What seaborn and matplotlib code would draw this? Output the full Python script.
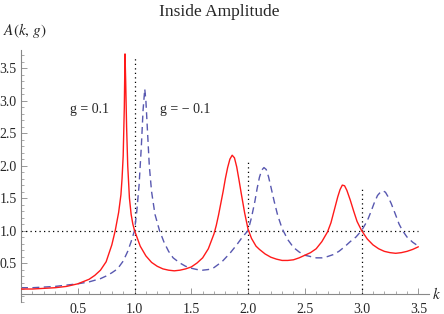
import numpy as np
import pandas as pd
import matplotlib
matplotlib.use("Agg")
import matplotlib.pyplot as plt
from matplotlib.ticker import MultipleLocator
import seaborn as sns

# --- data ---
k_pos = [0.0, 0.1, 0.2, 0.3, 0.4, 0.5, 0.6, 0.65, 0.7, 0.75, 0.8, 0.83, 0.86, 0.88,
         0.89, 0.9, 0.91, 0.916, 0.922, 0.93, 0.94, 0.955, 0.97, 0.985, 1.0, 1.05,
         1.1, 1.15, 1.2, 1.25, 1.3, 1.35, 1.4, 1.45, 1.5, 1.55, 1.6, 1.65, 1.7,
         1.72, 1.74, 1.76, 1.78, 1.8, 1.82, 1.84, 1.86, 1.88, 1.9, 1.92, 1.94, 1.97,
         2.0, 2.03, 2.07, 2.1, 2.15, 2.2, 2.25, 2.3, 2.35, 2.4, 2.45, 2.5, 2.55, 2.6,
         2.65, 2.7, 2.73, 2.76, 2.79, 2.81, 2.83, 2.85, 2.87, 2.9, 2.93, 2.96, 3.0,
         3.05, 3.1, 3.15, 3.2, 3.25, 3.3, 3.35, 3.4, 3.45, 3.5]
amp_pos = [0.10, 0.10, 0.11, 0.12, 0.14, 0.18, 0.25, 0.31, 0.39, 0.52, 0.78, 1.0, 1.28, 1.55,
           1.8, 2.15, 2.9, 3.72, 3.3, 2.6, 2.0, 1.5, 1.25, 1.1, 1.0, 0.76,
           0.61, 0.51, 0.45, 0.41, 0.39, 0.38, 0.39, 0.41, 0.44, 0.50, 0.58, 0.72, 0.95,
           1.08, 1.24, 1.42, 1.6, 1.8, 1.97, 2.1, 2.16, 2.12, 1.98, 1.78, 1.57, 1.27,
           1.02, 0.88, 0.76, 0.71, 0.64, 0.59, 0.56, 0.54, 0.54, 0.55, 0.58, 0.62, 0.66, 0.72,
           0.83, 0.98, 1.12, 1.32, 1.52, 1.63, 1.70, 1.69, 1.62, 1.47, 1.30, 1.14, 1.0,
           0.87, 0.78, 0.72, 0.68, 0.66, 0.65, 0.66, 0.68, 0.71, 0.75]

k_neg = [0.0, 0.1, 0.2, 0.3, 0.4, 0.5, 0.6, 0.7, 0.75, 0.8, 0.85, 0.9, 0.94, 0.97,
         1.0, 1.02, 1.04, 1.06, 1.075, 1.09, 1.1, 1.115, 1.13, 1.15, 1.18, 1.22, 1.26,
         1.3, 1.34, 1.4, 1.45, 1.5, 1.55, 1.6, 1.65, 1.7, 1.77, 1.84, 1.9, 1.95, 2.0,
         2.03, 2.06, 2.08, 2.1, 2.12, 2.14, 2.16, 2.18, 2.2, 2.23, 2.26, 2.3, 2.35,
         2.4, 2.45, 2.5, 2.55, 2.6, 2.65, 2.7, 2.75, 2.8, 2.85, 2.9, 2.95, 3.0, 3.05,
         3.08, 3.11, 3.14, 3.17, 3.19, 3.21, 3.23, 3.26, 3.3, 3.33, 3.36, 3.4, 3.45, 3.5]
amp_neg = [0.12, 0.12, 0.13, 0.14, 0.16, 0.18, 0.21, 0.26, 0.30, 0.35, 0.41, 0.53, 0.68, 0.83,
           1.0, 1.3, 1.7, 2.3, 2.85, 3.18, 3.0, 2.5, 2.0, 1.6, 1.25, 1.0, 0.82,
           0.68, 0.58, 0.50, 0.45, 0.42, 0.40, 0.39, 0.40, 0.43, 0.52, 0.65, 0.78, 0.90, 1.0,
           1.2, 1.45, 1.65, 1.82, 1.93, 1.97, 1.94, 1.83, 1.68, 1.45, 1.24, 1.03, 0.86,
           0.74, 0.67, 0.62, 0.60, 0.58, 0.58, 0.60, 0.63, 0.68, 0.75, 0.83, 0.90, 1.0, 1.15,
           1.28, 1.42, 1.54, 1.60, 1.61, 1.59, 1.53, 1.42, 1.24, 1.10, 1.0, 0.90, 0.82, 0.76]

guide_k = [1.0, 2.0, 3.0]
guide_top = [3.68, 2.09, 1.64]
ref_level = 1.0

x_major = [0.5, 1.0, 1.5, 2.0, 2.5, 3.0, 3.5]
y_major = [0.5, 1.0, 1.5, 2.0, 2.5, 3.0, 3.5]

df_pos = pd.DataFrame({"k": k_pos, "A": amp_pos})
df_neg = pd.DataFrame({"k": k_neg, "A": amp_neg})

sns.set_style("white")
plt.rcParams["font.family"] = ["Liberation Serif", "DejaVu Serif"]
plt.rcParams["mathtext.fontset"] = "stix"

fig = plt.figure(figsize=(4.44, 3.14), dpi=100)
ax = fig.add_axes([0.0473, 0.0382, 0.918, 0.8025])

# reference guides (dotted)
ax.plot([0, 3.5], [ref_level, ref_level], color="black", lw=0.9,
        dashes=(1, 2.6), zorder=1)
for gk, gt in zip(guide_k, guide_top):
    ax.plot([gk, gk], [0.02, gt], color="black", lw=0.9, dashes=(1, 2.6), zorder=1)

sns.lineplot(data=df_pos, x="k", y="A", ax=ax, color="#ff1a1a", lw=1.0,
             sort=False, estimator=None, zorder=3)
sns.lineplot(data=df_neg, x="k", y="A", ax=ax, color="#5858b0", lw=1.0,
             sort=False, estimator=None, dashes=False, zorder=2)
ax.lines[-1].set_dashes((5, 3.2))

ax.text(0.60, 2.87, "g = 0.1", ha="center", va="center", fontsize=10)
ax.text(1.445, 2.87, "g = \u2212 0.1", ha="center", va="center", fontsize=10)

ax.set_xlim(0, 3.59)
ax.set_ylim(-0.1, 3.78)
ax.set_xlabel("")
ax.set_ylabel("")

for s in ["top", "right"]:
    ax.spines[s].set_visible(False)
ax.spines["bottom"].set_position(("data", 0.02))
for s in ["bottom", "left"]:
    ax.spines[s].set_color("#888888")
    ax.spines[s].set_linewidth(0.8)

ax.set_xticks(x_major)
ax.set_yticks(y_major)
ax.set_xticklabels([f"{v:.1f}" for v in x_major])
ax.set_yticklabels([f"{v:.1f}" for v in y_major])
ax.xaxis.set_minor_locator(MultipleLocator(0.1))
ax.yaxis.set_minor_locator(MultipleLocator(0.1))
ax.tick_params(which="major", direction="in", length=4, width=0.6,
               color="#888888", labelsize=10, pad=6)
ax.tick_params(which="minor", direction="in", length=2.2, width=0.5,
               color="#888888")
ax.tick_params(axis="y", which="major", pad=3)
ax.tick_params(bottom=True, left=True, which="both")

fig.text(0.493, 0.962, "Inside Amplitude", ha="center", va="center", fontsize=12.5)
fig.text(0.006, 0.904, "$A(k,\\,g)$", ha="left", va="center", fontsize=11)
fig.text(0.984, 0.064, "$k$", ha="center", va="center", fontsize=11)

fig.savefig("out.png", dpi=100)
